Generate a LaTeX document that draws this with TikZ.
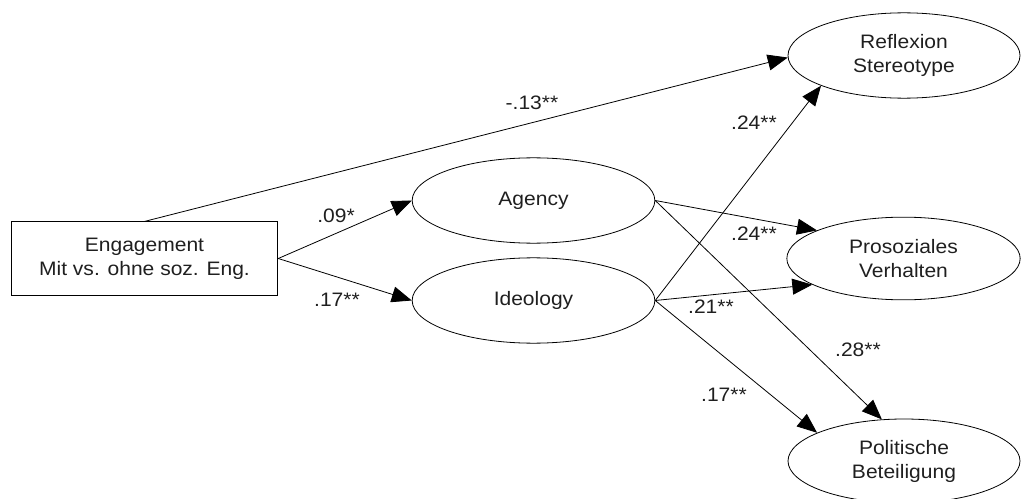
\documentclass[tikz,border=0pt]{standalone}
\usepackage{fontspec}
\setmainfont{Liberation Sans}[FakeStretch=1.08]
\usetikzlibrary{shapes.geometric,arrows.meta}
\begin{document}
\begin{tikzpicture}[x=0.75pt,y=-0.75pt,
  font=\fontsize{14.6}{18}\selectfont,
  latent/.style={ellipse,draw,line width=0.6pt,inner sep=0pt,align=center,text=black!88},
  obs/.style={rectangle,draw,line width=0.6pt,inner sep=0pt,align=center,text=black!88},
  pathar/.style={line width=0.6pt,-{Triangle[length=15pt,width=12pt]}},
  coef/.style={inner sep=0pt,text=black!88}]
\useasboundingbox (0,0) rectangle (1021,499);
\node[obs, minimum width=200pt, minimum height=55pt] (eng) at (144.5,258.5) {Engagement\\Mit vs. ohne soz. Eng.};
\node[latent, minimum width=182pt, minimum height=64pt] (ag) at (533.5,200.5) {Agency};
\node[latent, minimum width=182pt, minimum height=64pt] (id) at (533.5,300.5) {Ideology};
\node[latent, minimum width=174pt, minimum height=64pt] (re) at (904,55.5) {Reflexion\\Stereotype};
\node[latent, minimum width=175pt, minimum height=62pt] (pr) at (903.5,258.5) {Prosoziales\\Verhalten};
\node[latent, minimum width=174pt, minimum height=63pt] (po) at (904,461) {Politische\\Beteiligung};
\draw[pathar] (eng.north) -- (re.181);
\draw[pathar] (eng.east) -- (ag.west);
\draw[pathar] (eng.east) -- (id.west);
\draw[pathar] (ag.east) -- (pr.162);
\draw[pathar] (ag.east) -- (po.118);
\draw[pathar] (id.east) -- (re.200);
\draw[pathar] (id.east) -- (pr.196);
\draw[pathar] (id.east) -- (po.162);
\node[coef] (c1) at (532,103) {-.13**};
\node[coef] (c2) at (336,216) {.09*};
\node[coef] (c3) at (337,300) {.17**};
\node[coef] (c4) at (754,123) {.24**};
\node[coef] (c5) at (754,234) {.24**};
\node[coef] (c6) at (711,307) {.21**};
\node[coef] (c7) at (858,350) {.28**};
\node[coef] (c8) at (724,395) {.17**};
\end{tikzpicture}
\end{document}
